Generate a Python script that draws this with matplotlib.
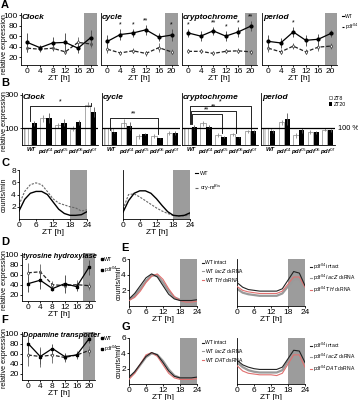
import matplotlib
matplotlib.use('Agg')
import matplotlib.pyplot as plt
from matplotlib.lines import Line2D
from matplotlib.patches import Patch
import numpy as np

plt.rcParams['font.family'] = ['Liberation Sans', 'DejaVu Sans']
plt.rcParams['font.size'] = 6
plt.rcParams['axes.linewidth'] = 0.6
plt.rcParams['xtick.major.width'] = 0.6
plt.rcParams['ytick.major.width'] = 0.6
plt.rcParams['xtick.major.size'] = 1.5
plt.rcParams['ytick.major.size'] = 1.5
plt.rcParams['xtick.major.pad'] = 0.6
plt.rcParams['ytick.major.pad'] = 0.8
plt.rcParams['hatch.linewidth'] = 0.5

# ---------------- data ----------------
zt_a = [0, 4, 8, 12, 16, 20]
mut = 'pdf$^{04}$'

clock_wt = [48, 38, 47, 48, 37, 57]
clock_wt_err = [18, 6, 12, 18, 10, 15]
clock_mut = [37, 35, 37, 30, 48, 45]
clock_mut_err = [8, 5, 5, 5, 10, 8]
clock_stars = ['', '', '', '', '', '']

cycle_wt = [50, 63, 66, 72, 58, 62]
cycle_wt_err = [12, 10, 8, 10, 8, 12]
cycle_mut = [35, 28, 32, 27, 38, 30]
cycle_mut_err = [8, 3, 5, 4, 8, 5]
cycle_stars = ['', '*', '*', '**', '', '*']

cry_wt = [66, 60, 70, 60, 68, 79]
cry_wt_err = [8, 10, 8, 10, 10, 9]
cry_mut = [31, 31, 27, 31, 32, 30]
cry_mut_err = [4, 4, 3, 4, 5, 4]
cry_stars = ['*', '', '**', '*', '*', '**']

per_wt = [50, 47, 68, 52, 54, 65]
per_wt_err = [12, 10, 10, 10, 10, 6]
per_mut = [37, 30, 41, 30, 39, 41]
per_mut_err = [8, 5, 6, 5, 8, 5]
per_stars = ['', '', '*', '', '', '']

genes = ['Clock', 'cycle', 'cryptochrome', 'period']

# Panel B (percent of WT ZT8)
b_groups = ['WT', 'pdf$^{04}$', 'pdf$^{05}$', 'pdf$^{06}$', 'pdf$^{07}$']
clock_zt8 = [100, 158, 118, 98, 240]
clock_zt8_err = [0, 20, 15, 15, 15]
clock_zt20 = [131, 163, 133, 137, 196]
clock_zt20_err = [15, 30, 20, 15, 30]
cycle_zt8 = [100, 131, 53, 53, 72]
cycle_zt8_err = [0, 25, 15, 10, 10]
cycle_zt20 = [75, 112, 65, 39, 72]
cycle_zt20_err = [5, 25, 8, 5, 10]
cryb_zt8 = [100, 131, 59, 63, 82]
cryb_zt8_err = [0, 15, 12, 10, 8]
cryb_zt20 = [108, 108, 49, 45, 82]
cryb_zt20_err = [10, 12, 5, 5, 8]
perb_zt8 = [100, 137, 59, 75, 92]
perb_zt8_err = [0, 15, 15, 12, 10]
perb_zt20 = [82, 157, 88, 75, 88]
perb_zt20_err = [8, 35, 15, 8, 10]

clock_brackets = [(4, 235, '*')]
cycle_brackets = [(3, 160, '**')]
cry_brackets = [(4, 232, '*'), (3, 205, '**'), (2, 187, '**')]
per_brackets = []

# Panel C activity (counts/min)
zt_c = [0, 2, 4, 6, 8, 10, 12, 14, 16, 18, 20, 22, 24]
c1_wt = [1.3, 3.2, 4.2, 4.5, 4.5, 4.0, 2.8, 1.6, 0.9, 0.6, 0.6, 0.7, 1.2]
c1_cry = [2.3, 4.5, 5.6, 5.9, 5.6, 4.5, 3.3, 2.6, 2.3, 2.0, 1.8, 1.3, 1.5]
c2_wt = [1.1, 3.0, 4.2, 4.6, 4.6, 4.2, 3.3, 2.2, 1.2, 0.6, 0.5, 0.6, 1.0]
c2_cry = [1.6, 4.0, 4.1, 3.6, 3.0, 2.4, 1.8, 1.3, 0.9, 0.6, 0.5, 0.5, 0.7]

# Panel D, F
th_wt = [42, 49, 32, 42, 36, 75]
th_wt_err = [16, 18, 5, 18, 8, 15]
th_mut = [64, 66, 40, 38, 40, 38]
th_mut_err = [20, 15, 8, 8, 10, 8]
dat_wt = [81, 55, 71, 55, 58, 90]
dat_wt_err = [15, 15, 10, 8, 5, 8]
dat_mut = [58, 55, 58, 53, 58, 67]
dat_mut_err = [22, 20, 15, 8, 8, 10]

# Panel E, G
e1_intact = [0.9, 1.6, 2.6, 3.6, 4.1, 3.7, 2.6, 1.5, 0.9, 0.7, 0.7, 0.7, 0.8]
e1_lacz = [0.8, 1.3, 2.2, 3.2, 3.9, 3.9, 3.0, 1.9, 1.1, 0.8, 0.7, 0.7, 0.8]
e1_ds = [0.7, 1.1, 1.9, 3.0, 3.8, 4.1, 3.4, 2.2, 1.2, 0.7, 0.5, 0.5, 0.6]
e2_intact = [3.0, 2.4, 2.1, 2.0, 1.9, 1.9, 1.9, 1.9, 2.2, 3.3, 4.4, 4.2, 2.6]
e2_lacz = [2.2, 1.7, 1.5, 1.4, 1.3, 1.3, 1.3, 1.3, 1.6, 2.5, 3.4, 3.4, 2.2]
e2_ds = [2.5, 2.0, 1.8, 1.7, 1.6, 1.6, 1.6, 1.6, 1.9, 2.8, 3.7, 3.7, 2.4]
g1_intact = [0.9, 1.6, 2.6, 3.6, 4.1, 3.8, 2.8, 1.7, 1.0, 0.8, 0.8, 0.8, 0.9]
g1_lacz = [0.8, 1.5, 2.5, 3.5, 4.0, 3.8, 3.0, 1.9, 1.1, 0.8, 0.7, 0.7, 0.8]
g1_ds = [0.6, 1.4, 2.6, 3.8, 4.1, 3.6, 2.5, 1.4, 0.8, 0.6, 0.6, 0.6, 0.7]
g2_intact = [3.1, 2.5, 2.2, 2.0, 1.9, 1.9, 1.9, 1.9, 2.2, 3.3, 4.4, 4.3, 2.8]
g2_lacz = [2.8, 2.2, 1.8, 1.6, 1.5, 1.5, 1.5, 1.5, 1.8, 3.0, 4.1, 4.0, 2.5]
g2_ds = [2.4, 1.7, 1.4, 1.3, 1.2, 1.2, 1.2, 1.1, 1.4, 2.6, 3.8, 3.8, 2.2]

# ---------------- layout helpers ----------------
W, H = 358, 400
fig = plt.figure(figsize=(3.58, 4.0), dpi=100)
BAND = '#9c9c9c'
FS = 6
YFS = 5.1


def axp(x0, y0, x1, y1):
    ax = fig.add_axes([x0 / W, 1 - y1 / H, (x1 - x0) / W, (y1 - y0) / H])
    ax.spines['top'].set_visible(False)
    ax.spines['right'].set_visible(False)
    ax.tick_params(labelsize=FS)
    return ax


def ftext(x, y, s, **kw):
    fig.text(x / W, 1 - y / H, s, **kw)


def letter(x, y, s):
    ftext(x, y, s, fontsize=8, fontweight='bold', va='top', ha='left')


def expr_panel(ax, wt, wterr, mu, muerr, stars, title, ylab, ymin, marker, tfs=6):
    ax.axvspan(18, 22, color=BAND, lw=0, zorder=0)
    ax.errorbar(zt_a, wt, yerr=wterr, color='black', lw=0.9, marker=marker, ms=2,
                ecolor='#555555', elinewidth=0.7, capsize=0, zorder=3)
    ax.errorbar(zt_a, mu, yerr=muerr, color='#222222', lw=0.9, ls=(0, (3, 1.5)), marker='d', ms=2,
                mfc='white', mec='#333333', mew=0.5,
                ecolor='#777777', elinewidth=0.7, capsize=0, zorder=2)
    for x, y, e, s in zip(zt_a, wt, wterr, stars):
        if s:
            ax.text(x, y + e + 1, s, ha='center', va='bottom', fontsize=5)
    ax.set_xlim(-2, 22)
    ax.set_ylim(ymin, 104)
    ax.set_xticks(zt_a)
    ax.set_yticks([20, 40, 60, 80, 100])
    if not ylab:
        ax.set_yticks([])
    ax.set_xlabel('ZT [h]', fontsize=FS, labelpad=0)
    ax.text(0.01, 0.99, title, transform=ax.transAxes, fontsize=tfs, fontweight='bold',
            style='italic', ha='left', va='top')


# ---------------- Panel A ----------------
letter(1, 0, 'A')
a_data = [(clock_wt, clock_wt_err, clock_mut, clock_mut_err, clock_stars),
          (cycle_wt, cycle_wt_err, cycle_mut, cycle_mut_err, cycle_stars),
          (cry_wt, cry_wt_err, cry_mut, cry_mut_err, cry_stars),
          (per_wt, per_wt_err, per_mut, per_mut_err, per_stars)]
a_pos = [(21, 13, 97, 65), (101, 13, 178, 65), (182, 13, 257, 65), (262, 13, 337, 65)]
for i, (pos, d, g) in enumerate(zip(a_pos, a_data, genes)):
    ax = axp(*pos)
    expr_panel(ax, *d, g, i == 0, 5, 'o')
ftext(4.5, 44, 'relative expression', rotation=90, fontsize=YFS, va='center', ha='center')
handles = [Line2D([], [], color='black', lw=0.8), Line2D([], [], color='black', lw=0.8, ls='--')]
fig.legend(handles, ['WT', mut], loc='upper left', bbox_to_anchor=(339 / W, 1 - 11 / H),
           fontsize=3.6, frameon=False, handlelength=0.5, handletextpad=0.25, labelspacing=0.7,
           borderpad=0)

# ---------------- Panel B ----------------
letter(1, 78, 'B')
b_data = [(clock_zt8, clock_zt8_err, clock_zt20, clock_zt20_err, clock_brackets),
          (cycle_zt8, cycle_zt8_err, cycle_zt20, cycle_zt20_err, cycle_brackets),
          (cryb_zt8, cryb_zt8_err, cryb_zt20, cryb_zt20_err, cry_brackets),
          (perb_zt8, perb_zt8_err, perb_zt20, perb_zt20_err, per_brackets)]
b_pos = [(22, 93, 98, 145), (102, 93, 180, 145), (182, 93, 258, 145), (261, 93, 335, 145)]
xg = np.arange(len(b_groups))
bw = 0.36
for i, (pos, d, g) in enumerate(zip(b_pos, b_data, genes)):
    z8, z8e, z20, z20e, br = d
    ax = axp(*pos)
    hatches = ['|||||'] + [''] * (len(z8) - 1)
    for j in range(len(z8)):
        ax.bar(xg[j] - bw / 2 - 0.02, z8[j], bw + (0.25 if j == 0 else 0), color='white',
               edgecolor='#888888', lw=0.5, hatch=hatches[j], zorder=2)
    ax.errorbar(xg[1:] - bw / 2 - 0.02, z8[1:], yerr=z8e[1:], fmt='none', ecolor='#888888',
                elinewidth=0.6, capsize=0, zorder=3)
    ax.bar(xg + bw / 2 + 0.02, z20, bw, color='black', zorder=2)
    ax.errorbar(xg + bw / 2 + 0.02, z20, yerr=z20e, fmt='none', ecolor='#555555',
                elinewidth=0.6, capsize=0, zorder=3)
    ax.axhline(100, color='black', lw=0.9, zorder=4)
    for k, (gj, h, s) in enumerate(br):
        x0 = xg[0] - 0.1 + 0.08 * k
        x1 = xg[gj] + 0.05
        ax.plot([x0, x0, x1, x1], [z20[0] + 15, h, h, max(z8[gj], z20[gj]) + 10],
                color='black', lw=0.6, zorder=5)
        ax.text((x0 + x1) / 2, h + 2, s, ha='center', va='bottom', fontsize=5)
    ax.set_xlim(-0.62, 4.5)
    ax.set_ylim(0, 310)
    ax.set_xticks(xg)
    ax.set_xticklabels(b_groups, fontsize=4.2, fontweight='bold', style='italic')
    ax.tick_params(axis='x', length=0, pad=1.5)
    if i == 0:
        ax.set_yticks([100, 300])
    else:
        ax.set_yticks([])
    ax.text(0.01, 0.99, g, transform=ax.transAxes, fontsize=6, fontweight='bold',
            style='italic', ha='left', va='top')
ftext(4.5, 121, 'relative expression', rotation=90, fontsize=YFS, va='center', ha='center')
ftext(338, 128, '100 %', fontsize=5.3, va='center', ha='left')
handles = [Patch(facecolor='white', edgecolor='#666666', lw=0.5), Patch(facecolor='black')]
fig.legend(handles, ['ZT8', 'ZT20'], loc='upper left', bbox_to_anchor=(326 / W, 1 - 93 / H),
           fontsize=3.8, frameon=False, handlelength=0.6, handleheight=0.6,
           handletextpad=0.3, labelspacing=0.2, borderpad=0)

# ---------------- Panel C ----------------
letter(1, 158, 'C')
for k, (pos, wt, cr) in enumerate([((19, 170, 87, 219), c1_wt, c1_cry),
                                   ((123, 170, 190, 219), c2_wt, c2_cry)]):
    ax = axp(*pos)
    ax.axvspan(18, 24, color=BAND, lw=0, zorder=0)
    ax.plot(zt_c, wt, color='black', lw=1.0, zorder=3)
    ax.plot(zt_c, cr, color='#666666', lw=0.8, ls=(0, (2, 1.2)), zorder=2)
    ax.set_xlim(0, 24)
    ax.set_ylim(0, 8)
    ax.set_xticks([0, 6, 12, 18, 24])
    ax.set_yticks([2, 4, 6, 8] if k == 0 else [])
    ax.set_xlabel('ZT [h]', fontsize=FS, labelpad=0)
ftext(4.5, 195, 'counts/min', rotation=90, fontsize=YFS, va='center', ha='center')
handles = [Line2D([], [], color='black', lw=0.8), Line2D([], [], color='#666666', lw=0.8, ls='--')]
fig.legend(handles, ['WT', 'cry-m$^{Bis}$'], loc='upper left', bbox_to_anchor=(192 / W, 1 - 168 / H),
           fontsize=4, frameon=False, handlelength=0.6, handletextpad=0.3, labelspacing=1.3,
           borderpad=0)

# ---------------- Panel D ----------------
letter(1, 237, 'D')
ax = axp(22, 253, 95, 301)
expr_panel(ax, th_wt, th_wt_err, th_mut, th_mut_err, [''] * 6, 'tyrosine hydroxylase', True, 7, 's',
           tfs=5.3)
ftext(4.5, 280, 'relative expression', rotation=90, fontsize=YFS, va='center', ha='center')
handles = [Line2D([], [], color='black', lw=0.8, marker='s', ms=2),
           Line2D([], [], color='black', lw=0.8, ls='--', marker='s', ms=2)]
fig.legend(handles, ['WT', mut], loc='upper left', bbox_to_anchor=(98 / W, 1 - 254 / H),
           fontsize=3.8, frameon=False, handlelength=0.4, handletextpad=0.3, labelspacing=0.5,
           borderpad=0)

# ---------------- Panel F ----------------
letter(1, 315, 'F')
ax = axp(22, 332, 95, 380)
expr_panel(ax, dat_wt, dat_wt_err, dat_mut, dat_mut_err, [''] * 6, 'Dopamine transporter', True, 8, 's',
           tfs=5.3)
ftext(4.5, 358, 'relative expression', rotation=90, fontsize=YFS, va='center', ha='center')
fig.legend(handles, ['WT', mut], loc='upper left', bbox_to_anchor=(98 / W, 1 - 333 / H),
           fontsize=3.8, frameon=False, handlelength=0.4, handletextpad=0.3, labelspacing=0.5,
           borderpad=0)

# ---------------- Panels E, G ----------------
RED = '#e0706f'
GRAY = '#9a9a9a'


def act_panel(pos, intact, lacz, ds, ylab):
    ax = axp(*pos)
    ax.axvspan(18, 24, color=BAND, lw=0, zorder=0)
    ax.plot(zt_c, lacz, color=GRAY, lw=1.6, zorder=2)
    ax.plot(zt_c, ds, color=RED, lw=0.8, zorder=3)
    ax.plot(zt_c, intact, color='#222222', lw=0.8, zorder=4)
    ax.set_xlim(0, 24)
    ax.set_ylim(0, 6)
    ax.set_xticks([0, 6, 12, 18, 24])
    ax.set_yticks([2, 4, 6] if ylab else [])
    ax.set_xlabel('ZT [h]', fontsize=FS, labelpad=0)
    return ax


letter(121, 243, 'E')
act_panel((129, 259, 197, 306), e1_intact, e1_lacz, e1_ds, True)
act_panel((237, 259, 305, 306), e2_intact, e2_lacz, e2_ds, False)
ftext(119, 283, 'counts/min', rotation=90, fontsize=5.1, va='center', ha='center')

letter(121, 322, 'G')
act_panel((129, 338, 197, 384), g1_intact, g1_lacz, g1_ds, True)
act_panel((237, 338, 305, 384), g2_intact, g2_lacz, g2_ds, False)
ftext(119, 361, 'counts/min', rotation=90, fontsize=5.1, va='center', ha='center')

lh = [Line2D([], [], color='#222222', lw=0.8), Line2D([], [], color=GRAY, lw=0.8),
      Line2D([], [], color=RED, lw=0.8)]


def act_legend(x, y, labels):
    fig.legend(lh, labels, loc='upper left', bbox_to_anchor=(x / W, 1 - y / H),
               fontsize=3.6, frameon=False, handlelength=0.4, handletextpad=0.3,
               labelspacing=0.25, borderpad=0)


act_legend(199, 258, ['WT intact', 'WT $lacZ$ dsRNA', 'WT $TH$ dsRNA'])
act_legend(307, 259, [mut + ' intact', mut + ' $lacZ$ dsRNA', mut + ' $TH$ dsRNA'])
act_legend(199, 338, ['WT intact', 'WT $lacZ$ dsRNA', 'WT $DAT$ dsRNA'])
act_legend(307, 338, [mut + ' intact', mut + ' $lacZ$ dsRNA', mut + ' $DAT$ dsRNA'])

fig.savefig('out.png', dpi=100)
